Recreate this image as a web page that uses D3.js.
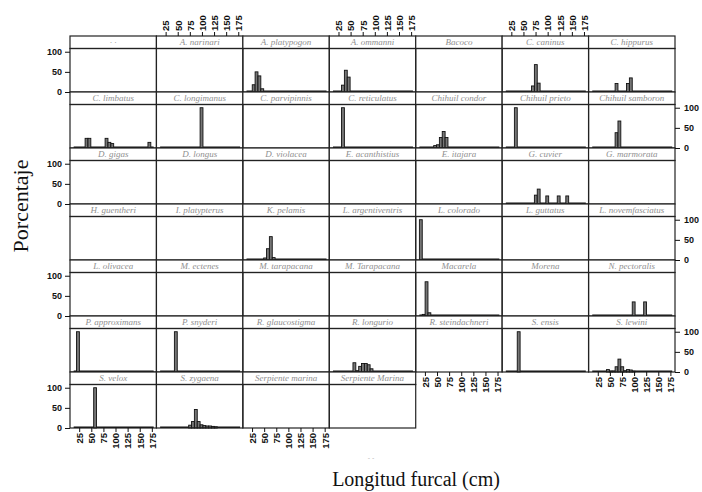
<!DOCTYPE html>
<html>
<head>
<meta charset="utf-8">
<script src="https://cdn.jsdelivr.net/npm/d3@7/dist/d3.min.js"></script>
<style>
  body { margin: 0; background: #fff; }
  svg { display: block; }
  .serif { font-family: "Liberation Serif", "Times New Roman", Times, "DejaVu Serif", serif; }
  .sans { font-family: "Liberation Sans", Arial, Helvetica, sans-serif; }
</style>
</head>
<body>
<svg id="chart" width="702" height="492"></svg>
<script>
// Species shown in each panel, row by row (7 columns)
const panelNames = [
  "· ·", "A. narinari", "A. platypogon", "A. ommanni", "Bacoco", "C. caninus", "C. hippurus",
  "C. limbatus", "C. longimanus", "C. parvipinnis", "C. reticulatus", "Chihuil condor", "Chihuil prieto", "Chihuil samboron",
  "D. gigas", "D. longus", "D. violacea", "E. acanthistius", "E. itajara", "G. cuvier", "G. marmorata",
  "H. guentheri", "I. platypterus", "K. pelamis", "L. argentiventris", "L. colorado", "L. guttatus", "L. novemfasciatus",
  "L. olivacea", "M. ectenes", "M. tarapacana", "M. Tarapacana", "Macarela", "Morena", "N. pectoralis",
  "P. approximans", "P. snyderi", "R. glaucostigma", "R. longurio", "R. steindachneri", "S. ensis", "S. lewini",
  "S. velox", "S. zygaena", "Serpiente marina", "Serpiente Marina"
];

// Lower edge (cm) of each non-empty histogram bin, per panel
const barLengths = [
  [], [], [25.4, 31.3, 37.2, 43.1], [31.3, 37.2, 43.1], [], [66.7, 72.6, 78.5], [60.8, 84.4, 90.3],
  [37.2, 43.1, 78.5, 84.4, 90.3, 167.0], [96.2], [], [31.3], [43.1, 49.0, 54.9, 60.8, 66.7], [31.3], [60.8, 66.7],
  [], [], [], [], [], [72.6, 78.5, 96.2, 119.8, 137.5], [],
  [], [], [49.0, 54.9, 60.8, 66.7], [], [13.6], [], [],
  [], [], [], [], [19.5, 25.4, 31.3], [], [96.2, 119.8],
  [19.5], [43.1], [], [54.9, 60.8, 66.7, 72.6, 78.5, 84.4, 90.3], [], [37.2],
  [43.1, 49.0, 54.9, 60.8, 66.7, 72.6, 78.5, 84.4, 90.3, 96.2],
  [54.9], [72.6, 78.5, 84.4, 90.3, 96.2, 102.1, 108.0, 113.9, 119.8, 125.7], [], []
];

// Percentage of individuals in each of those bins
const barPercents = [
  [], [], [18, 50, 40, 8], [17, 54, 37], [], [15, 68, 22], [21, 21, 35],
  [24, 24, 24, 14, 11, 14], [100], [], [100], [6, 8, 26, 41, 26], [100], [38, 67],
  [], [], [], [], [], [22, 37, 20, 20, 20], [],
  [], [], [5, 28, 58, 6], [], [100], [], [],
  [], [], [], [], [4, 85, 8], [], [35, 35],
  [100], [100], [], [23, 3, 14, 21, 21, 18, 8], [], [100],
  [6, 2, 2, 13, 32, 13, 3, 6, 5, 2],
  [100], [7, 16, 46, 16, 8, 6, 5, 5, 4, 3], [], []
];

const binWidth = 5.9;            // cm
const breakRange = [13.6, 178.8]; // extent of the histogram breaks (cm)
const xTicks = [25, 50, 75, 100, 125, 150, 175];
const yTicks = [0, 50, 100];
const xTitle = "Longitud furcal (cm)";
const yTitle = "Porcentaje";

// ---- layout ----
const nCols = 7, nRows = 7;
const gridLeft = 70, gridRight = 675, gridTop = 36, gridBottom = 428;
const colW = (gridRight - gridLeft) / nCols;
const rowH = (gridBottom - gridTop) / nRows;
const stripH = 12.5;
const panelH = rowH - stripH;

const svg = d3.select("#chart");

const x = d3.scaleLinear().domain([6, 184.5]).range([0, colW]);
const y = d3.scaleLinear().domain([0, 108]).range([panelH, 0]);

const panels = svg.append("g");

panelNames.forEach((name, i) => {
  const row = Math.floor(i / nCols), col = i % nCols;
  const gx = gridLeft + col * colW, gy = gridTop + row * rowH;
  const g = panels.append("g").attr("transform", `translate(${gx},${gy})`);

  // strip
  g.append("rect")
    .attr("width", colW).attr("height", stripH)
    .attr("fill", "#fff").attr("stroke", "#222").attr("stroke-width", 1.2);
  g.append("text")
    .attr("class", "serif")
    .attr("x", colW / 2).attr("y", stripH / 2 + 3)
    .attr("text-anchor", "middle")
    .attr("font-style", "italic")
    .attr("font-size", 9).attr("fill", "#8f8f8f")
    .text(name);

  const p = g.append("g").attr("transform", `translate(0,${stripH})`);
  const lens = barLengths[i], pcts = barPercents[i];

  if (lens.length) {
    // zero-height bins show as a line along the base
    p.append("line")
      .attr("x1", x(breakRange[0])).attr("x2", x(breakRange[1]))
      .attr("y1", y(0) - 0.7).attr("y2", y(0) - 0.7)
      .attr("stroke", "#111").attr("stroke-width", 1.5);
    p.selectAll("rect.bar")
      .data(lens.map((l, j) => ({ l, v: pcts[j] })))
      .join("rect")
      .attr("class", "bar")
      .attr("x", d => x(d.l))
      .attr("width", d => x(d.l + binWidth) - x(d.l))
      .attr("y", d => y(d.v))
      .attr("height", d => y(0) - y(d.v))
      .attr("fill", "#767676").attr("stroke", "#111").attr("stroke-width", 0.9);
  }

  p.append("rect")
    .attr("width", colW).attr("height", panelH)
    .attr("fill", "none").attr("stroke", "#222").attr("stroke-width", 1.2);
});

// ---- axes ----
function styleAxis(sel, size) {
  sel.select(".domain").remove();
  sel.selectAll("line").attr("stroke", "#111").attr("stroke-width", 1);
  sel.selectAll("text")
    .attr("class", "sans").attr("font-size", size)
    .attr("font-weight", "bold").attr("fill", "#111");
}

// top axes on columns 2, 4, 6
[1, 3, 5].forEach(c => {
  const a = svg.append("g")
    .attr("transform", `translate(${gridLeft + c * colW},${gridTop})`)
    .call(d3.axisTop(x).tickValues(xTicks).tickSize(4));
  styleAxis(a, 9.5);
  a.selectAll("text")
    .attr("transform", "rotate(-90)")
    .attr("x", 5).attr("y", 0).attr("dy", "0.35em")
    .attr("text-anchor", "start");
});

// bottom axes: columns 1, 3 under the last row; 5, 7 under row 6
[[0, 7], [2, 7], [4, 6], [6, 6]].forEach(([c, r]) => {
  const a = svg.append("g")
    .attr("transform", `translate(${gridLeft + c * colW},${gridTop + r * rowH})`)
    .call(d3.axisBottom(x).tickValues(xTicks).tickSize(4));
  styleAxis(a, 9.5);
  a.selectAll("text")
    .attr("transform", "rotate(-90)")
    .attr("x", -5).attr("y", 0).attr("dy", "0.35em")
    .attr("text-anchor", "end");
});

// left axes on rows 1, 3, 5, 7
[0, 2, 4, 6].forEach(r => {
  const a = svg.append("g")
    .attr("transform", `translate(${gridLeft},${gridTop + r * rowH + stripH})`)
    .call(d3.axisLeft(y).tickValues(yTicks).tickSize(5).tickPadding(3));
  styleAxis(a, 9);
});

// right axes on rows 2, 4, 6
[1, 3, 5].forEach(r => {
  const a = svg.append("g")
    .attr("transform", `translate(${gridRight},${gridTop + r * rowH + stripH})`)
    .call(d3.axisRight(y).tickValues(yTicks).tickSize(5).tickPadding(4));
  styleAxis(a, 9);
});

// ---- titles ----
svg.append("text")
  .attr("class", "serif")
  .attr("transform", "translate(28,206) rotate(-90)")
  .attr("text-anchor", "middle")
  .attr("font-size", 22).attr("fill", "#111")
  .text(yTitle);

svg.append("text")
  .attr("class", "serif")
  .attr("x", 416).attr("y", 486)
  .attr("text-anchor", "middle")
  .attr("font-size", 20).attr("fill", "#111")
  .text(xTitle);

svg.append("text")
  .attr("class", "sans")
  .attr("x", 371).attr("y", 460)
  .attr("text-anchor", "middle")
  .attr("font-size", 7).attr("fill", "#bbb")
  .text("- -");
</script>
</body>
</html>
